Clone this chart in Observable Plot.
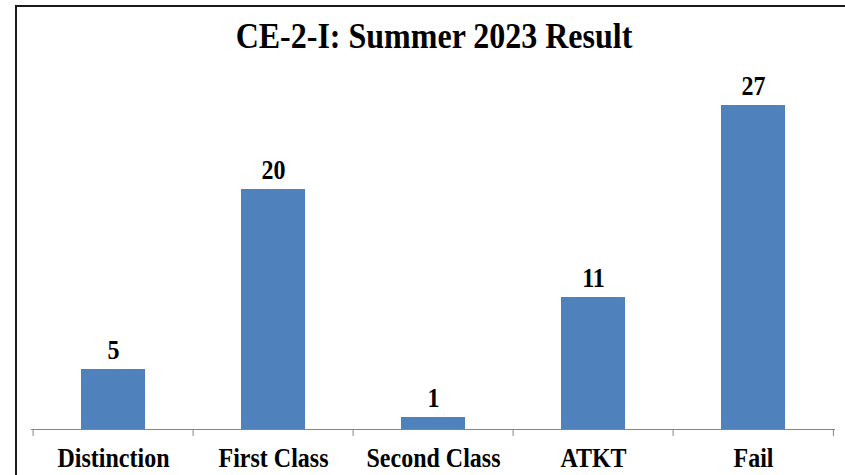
<!DOCTYPE html>
<html>
<head>
<meta charset="utf-8">
<script src="https://cdn.jsdelivr.net/npm/d3@7"></script>
<script src="https://cdn.jsdelivr.net/npm/@observablehq/plot@0.6"></script>
<style>
  html, body { margin: 0; padding: 0; background: #fff; }
  #wrap { position: relative; width: 845px; height: 475px; overflow: hidden; background: #fff; }
  #frame { position: absolute; left: 15px; top: 5px; width: 900px; height: 600px;
           border-top: 2px solid #1a1a1a; border-left: 2px solid #1a1a1a; box-sizing: border-box; }
  #title { position: absolute; left: 0; top: 21px; width: 868px; text-align: center;
           font-family: "Liberation Serif", "Times New Roman", serif; font-weight: bold;
           font-size: 32px; line-height: 32px; color: #000;
           transform-origin: 50% 27px; transform: scaleY(1.1); }
  #chart { position: absolute; left: 0; top: 0; }
</style>
</head>
<body>
<div id="wrap">
  <div id="frame"></div>
  <div id="chart"></div>
  <div id="title">CE-2-I: Summer 2023 Result</div>
</div>
<script>
const categories = ["Distinction", "First Class", "Second Class", "ATKT", "Fail"];
const counts = [5, 20, 1, 11, 27];

const data = categories.map((c, i) => ({category: c, count: counts[i]}));

const W = 845, H = 475, mL = 31, mR = 10;
const step = (W - mL - mR) / categories.length;
const font = "'Liberation Serif', 'Times New Roman', serif";

const chart = Plot.plot({
  width: W,
  height: H,
  marginLeft: mL,
  marginRight: mR,
  marginTop: 69,
  marginBottom: 46,
  style: {background: "transparent", fontFamily: font, color: "#000"},
  x: {domain: categories, paddingInner: 0.6, paddingOuter: 0.3, axis: null},
  y: {domain: [0, 30], axis: null},
  marks: [
    Plot.barY(data, {x: "category", y: "count", fill: "#4F81BD"}),
    Plot.ruleY([0], {stroke: "#868686", strokeWidth: 1}),
    Plot.ruleX(categories, {x: d => d, dx: -step / 2, y1: 0, y2: 0, insetBottom: -7, stroke: "#868686"}),
    Plot.ruleX([categories[categories.length - 1]], {x: d => d, dx: step / 2 - 0.5, y1: 0, y2: 0, insetBottom: -7, stroke: "#868686"}),
    Plot.text(data, {x: "category", y: "count", text: d => String(d.count), lineAnchor: "bottom", dy: -11,
      fontSize: 24, fontWeight: "bold", fill: "#000"}),
    Plot.axisX({tickSize: 0, tickPadding: 18, fontSize: 24, fontWeight: "bold", label: null, fill: "#000"})
  ]
});
// slight vertical stretch of the bold serif labels, as in the reference
const px = v => (v && !/em$/.test(v) && isFinite(+v)) ? +v : 0;
d3.select(chart).selectAll("text").each(function() {
  const x = px(this.getAttribute("x")), y = px(this.getAttribute("y"));
  const t = this.getAttribute("transform") || "";
  this.setAttribute("transform", `${t} translate(${x},${y}) scale(1,1.12) translate(${-x},${-y})`);
});
document.getElementById("chart").appendChild(chart);
</script>
</body>
</html>
